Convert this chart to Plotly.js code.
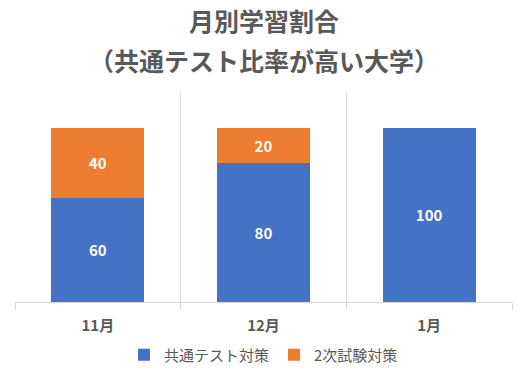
<!DOCTYPE html>
<html><head><meta charset="utf-8">
<script src="https://cdn.plot.ly/plotly-3.0.1.min.js"></script>
<style>html,body{margin:0;padding:0;background:#fff}</style>
</head><body>
<div id="chart" style="width:521px;height:370px"></div>
<script>
const categories = ["11月", "12月", "1月"];
const commonTest = [60, 80, 100];
const secondExam = [40, 20, 0];
const seriesNames = ["共通テスト対策", "2次試験対策"];
const titleLines = ["月別学習割合", "（共通テスト比率が高い大学）"];

const FONT = '"Noto Sans CJK JP", "Noto Sans", sans-serif';
const GRAY = '#595959';

const traces = [
  {type:'bar', name:seriesNames[0], x:categories, y:commonTest,
   marker:{color:'#4472C4'}, text:commonTest.map(String),
   textposition:'inside', insidetextanchor:'middle',
   textfont:{color:'#ffffff', size:15, family:FONT, weight:700},
   hoverinfo:'none'},
  {type:'bar', name:seriesNames[1], x:categories, y:secondExam,
   marker:{color:'#ED7D31'}, text:secondExam.map(v => v ? String(v) : ''),
   textposition:'inside', insidetextanchor:'middle',
   textfont:{color:'#ffffff', size:15, family:FONT, weight:700},
   hoverinfo:'none'}
];

const layout = {
  width:521, height:370,
  margin:{l:15, r:9, t:93, b:68, autoexpand:false},
  paper_bgcolor:'#fff', plot_bgcolor:'#fff',
  barmode:'stack', bargap:0.44,
  font:{family:FONT, color:GRAY},
  showlegend:true,
  legend:{orientation:'h', x:0.5, xanchor:'center', y:-0.254, yanchor:'middle',
          font:{size:15, color:GRAY, family:FONT}, itemwidth:30, traceorder:'normal'},
  xaxis:{tickson:'boundaries', showgrid:true, gridcolor:'#d9d9d9', gridwidth:1,
         showline:true, linecolor:'#d9d9d9', ticks:'outside', ticklen:7, tickcolor:'#d9d9d9',
         ticklabelstandoff:10,
         tickfont:{size:15, color:GRAY, family:FONT, weight:700}, fixedrange:true},
  yaxis:{range:[0,120], visible:false, showgrid:false, zeroline:false, fixedrange:true},
  annotations:[
    {text:titleLines[0], xref:'paper', yref:'paper', x:0.5, y:(302-20)/209, xanchor:'center', yanchor:'middle',
     showarrow:false, font:{size:25, color:GRAY, family:FONT, weight:700}},
    {text:titleLines[1], xref:'paper', yref:'paper', x:0.5, y:(302-60)/209, xanchor:'center', yanchor:'middle',
     showarrow:false, font:{size:25, color:GRAY, family:FONT, weight:700}}
  ]
};

Plotly.newPlot('chart', traces, layout, {displayModeBar:false, staticPlot:true});
</script>
</body></html>
